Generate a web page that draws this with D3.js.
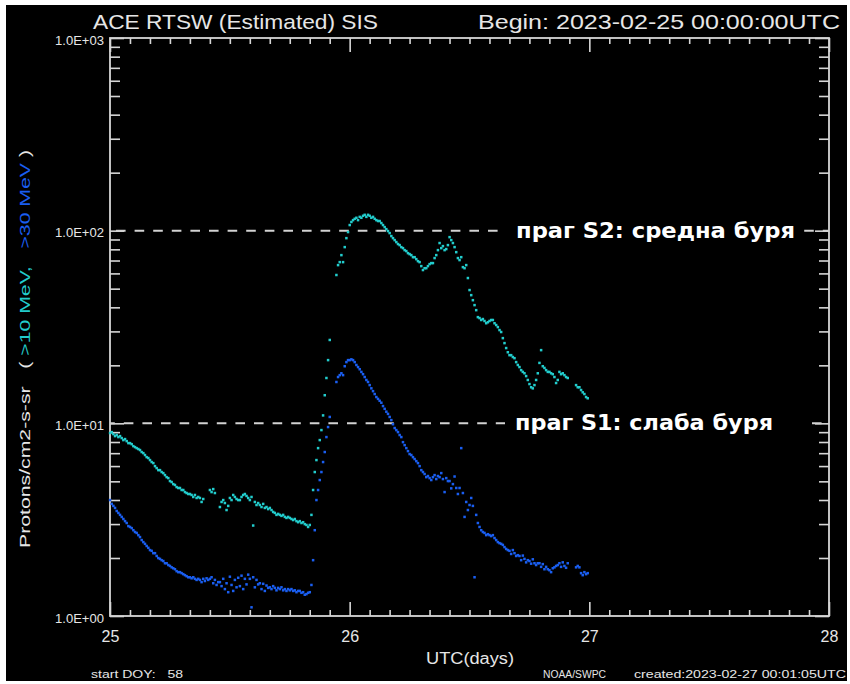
<!DOCTYPE html>
<html lang="bg">
  <head>
    <meta charset="UTF-8" />
    <title>ACE RTSW (Estimated) SIS</title>
    <script src="https://d3js.org/d3.v7.min.js"></script>
    <style>
      body {
        margin: 0;
        background: #ffffff;
      }
      .axis path {
        display: none;
      }
      .axis line {
        stroke: #d6d6d6;
        stroke-width: 1.6px;
      }
      .axis text {
        fill: #e6e6e6;
        font-family: "Liberation Sans", Arial, sans-serif;
      }
    </style>
  </head>
  <body>
    <script>
      // time axis: first sample and sampling step (10 min), in days of Feb 2023
      var startDay = 25;
      var stepDays = 1 / 144;

      // protons >10 MeV (cyan), pfu, one row = one hour (6 samples)
      var p10 = [
        8.91, 9.01, 8.8, 8.59, 8.7, 8.49,
        8.59, 8.39, 8.19, 8.29, 8.09, 7.9,
        7.9, 7.8, 7.62, 7.53, 7.44, 7.36,
        7.27, 7.1, 7.01, 6.85, 6.68, 6.61,
        6.45, 6.3, 6.22, 6.0, 5.86, 5.72,
        5.72, 5.59, 5.52, 5.39, 5.26, 5.2,
        5.02, 4.96, 4.84, 4.79, 4.67, 4.62,
        4.62, 4.51, 4.51, 4.4, 4.35, 4.3,
        4.3, 4.25, 4.15, 4.25, 4.1, 4.15,
        4.1, 3.91, 4.05, null, null, null,
        4.51, 4.4, 4.56, 4.35, null, null,
        3.68, 3.91, 4.0, 3.86, 3.55, 3.73,
        4.1, 4.0, 4.25, 4.15, 4.05, 4.0,
        4.0, 4.15, 4.25, 4.3, 4.2, 4.1,
        4.0, 4.15, 2.95, 3.91, 3.77, 3.86,
        3.77, 3.68, 3.82, 3.64, 3.68, 3.59,
        3.64, 3.55, 3.47, 3.43, 3.35, 3.39,
        3.35, 3.31, 3.35, 3.27, 3.23, 3.27,
        3.23, 3.19, 3.15, 3.19, 3.11, 3.07,
        3.11, 3.04, 3.07, 3.0, 2.97, 2.9,
        2.97, 3.35, 4.51, 5.59, 6.45, 7.44,
        8.19, 9.23, 11.0, 14.0, 17.2, 21.3,
        27.1, null, null, null, 58.9, 66.3,
        68.7, 74.7, 68.7, 82.2, 91.5, 98.4,
        107, 111, 113.5, 115.3, 116.7, 113.5,
        118, 116.7, 119.5, 120.9, 118, 120.9,
        119.5, 116.7, 118, 115.3, 113.5, 112.3,
        112.3, 109.6, 107, 104.4, 101.9, 99.6,
        97.2, 93.8, 91.5, 89.4, 87.3, 85.3,
        84.2, 82.2, 81.2, 79.3, 78.4, 76.5,
        75.6, 74.7, 72.9, 72.9, 71.2, 69.5,
        68.7, 65.5, 62.5, 63.9, 63.9, 65.5,
        67.1, 67.9, 67.9, 72.1, 74.7, 79.3,
        86.3, 81.2, 83.2, 79.3, 80.3, 84.2,
        92.6, 89.4, 86.3, 82.2, 77.4, 72.1,
        70.4, 72.9, 64.7, 63.9, 66.3, 56.8,
        49.2, 46.3, 43.6, 41.1, 38.7, 35.6,
        35.2, 34.4, 34.8, 34.0, 33.1, 33.5,
        34.0, 34.4, 34.4, 33.1, 32.4, 31.6,
        30.5, 29.8, 27.7, 26.1, 24.6, 23.4,
        22.6, 22.6, 22.1, 21.8, 20.8, 20.1,
        19.6, 18.9, 18.5, 18.2, 17.6, 16.8,
        16.0, 15.4, 15.2, 15.8, 16.8, 18.2,
        20.6, 24.0, 19.8, 19.4, 18.9, 18.5,
        18.5, 18.2, 18.0, 17.4, 16.2, 16.8,
        18.5, 18.0, 18.2, 17.8, 17.4, 17.2,
        null, null, null, null, 15.8, 15.4,
        15.4, 14.9, 14.5, 14.2, 13.7, 13.5
      ];

      // protons >30 MeV (blue), pfu
      var p30 = [
        4.0, 3.82, 3.73, 3.64, 3.51, 3.43,
        3.35, 3.27, 3.19, 3.11, 3.04, 2.93,
        2.9, 2.86, 2.79, 2.73, 2.7, 2.63,
        2.57, 2.48, 2.42, 2.37, 2.31, 2.26,
        2.2, 2.18, 2.12, 2.12, 2.05, 2.0,
        1.98, 1.95, 1.93, 1.88, 1.88, 1.84,
        1.82, 1.79, 1.77, 1.75, 1.71, 1.69,
        1.69, 1.67, 1.65, 1.63, 1.61, 1.59,
        1.59, 1.57, 1.59, 1.56, 1.54, 1.56,
        1.54, 1.5, 1.56, 1.52, 1.57, 1.54,
        1.56, 1.59, 1.48, 1.54, 1.45, 1.5,
        1.5, 1.43, 1.56, 1.38, 1.48, 1.33,
        1.6, 1.45, 1.35, 1.54, 1.41, 1.58,
        1.43, 1.62, 1.38, 1.56, 1.46, 1.64,
        1.56, 1.11, 1.59, 1.41, 1.54, 1.46,
        1.48, 1.38, 1.47, 1.35, 1.44, 1.4,
        1.41, 1.38, 1.43, 1.4, 1.36, 1.4,
        1.38, 1.41, 1.36, 1.38, 1.35, 1.38,
        1.36, 1.38, 1.35, 1.36, 1.33, 1.35,
        1.35, 1.32, 1.33, 1.29, 1.3, 1.32,
        1.33, 1.45, 1.95, 2.79, 4.0, 4.51,
        5.08, 5.59, 6.3, 7.1, 8.49, 9.57,
        10.8, null, null, null, 16.4, 17.4,
        17.8, 18.2, 17.8, 19.8, 20.8, 21.3,
        21.3, 21.5, 21.3, 20.8, 20.1, 19.6,
        19.1, 18.5, 18.0, 17.4, 16.8, 16.4,
        15.8, 15.2, 14.7, 14.2, 13.7, 13.4,
        13.1, 12.8, 12.3, 11.9, 11.5, 11.2,
        10.8, 10.4, 9.9, 9.46, 9.23, 9.01,
        8.7, 8.49, 7.99, 7.71, 7.44, 7.18,
        6.93, 6.85, 6.68, 6.53, 6.37, 6.22,
        6.0, 5.72, 5.59, 5.46, 5.26, 5.33,
        5.2, 5.08, 5.26, 5.39, 5.14, 5.33,
        5.26, 5.52, 5.14, 4.4, 5.2, 5.02,
        5.02, 4.6, 4.84, 5.3, 4.62, 4.3,
        4.62, 7.44, 4.35, 3.27, 3.91, 3.55,
        3.77, 4.1, 3.73, 1.59, 3.35, 3.04,
        2.9, 2.79, 2.73, 2.7, 2.63, 2.66,
        2.63, 2.6, 2.63, 2.54, 2.48, 2.42,
        2.39, 2.37, 2.34, 2.28, 2.23, 2.2,
        2.18, 2.1, 2.2, 2.12, 2.05, 2.07,
        2.05, 1.95, 2.06, 1.98, 1.9, 1.95,
        1.93, 1.87, 1.97, 1.88, 1.84, 1.88,
        1.88, 1.8, 1.86, 1.75, 1.8, 1.75,
        1.73, 1.69, 1.77, 1.79, 1.82, 1.84,
        1.88, 1.8, 1.9, 1.82, 1.78, 1.88,
        null, null, null, null, 1.79, 1.82,
        1.79, 1.67, 1.63, 1.69, 1.65, 1.67
      ];

      // axis ticks
      var dayTicks = [25, 26, 27, 28];
      var decadeTicks = [1, 10, 100, 1000];

      // storm thresholds
      var thresholds = [100, 10];
      var thresholdLabels = ["праг S2: средна буря", "праг S1: слаба буря"];

      var W = 850,
        H = 684;
      var plot = { left: 110, right: 829, top: 38, bottom: 616 };

      var svg = d3
        .select("body")
        .append("svg")
        .attr("width", W)
        .attr("height", H)
        .style("display", "block");

      svg
        .append("rect")
        .attr("x", 6)
        .attr("y", 5)
        .attr("width", 841)
        .attr("height", 676)
        .attr("fill", "#000");

      var x = d3
        .scaleLinear()
        .domain([25, 28])
        .range([plot.left, plot.right]);
      var y = d3
        .scaleLog()
        .domain([1, 1000])
        .range([plot.bottom, plot.top]);

      // minor ticks: every 2 hours on x, 2..9 on y
      var hourTicks = d3.range(25, 28.001, 1 / 12).filter(function (d) {
        return Math.abs(d - Math.round(d)) > 1e-6;
      });
      var minorY = [];
      decadeTicks.slice(0, 3).forEach(function (d) {
        for (var k = 2; k < 10; k++) minorY.push(d * k);
      });

      function sciLabel(d) {
        var e = Math.round(Math.log10(d));
        return "1.0E+" + (e < 10 ? "0" : "") + e;
      }

      // bottom axis
      svg
        .append("g")
        .attr("class", "axis")
        .attr("transform", "translate(0," + plot.bottom + ")")
        .call(d3.axisBottom(x).tickValues(hourTicks).tickSize(-6).tickFormat(""));
      svg
        .append("g")
        .attr("class", "axis")
        .attr("transform", "translate(0," + plot.bottom + ")")
        .call(
          d3
            .axisBottom(x)
            .tickValues(dayTicks)
            .tickSize(-14)
            .tickPadding(15)
            .tickFormat(d3.format("d"))
        )
        .selectAll("text")
        .style("font-size", "16px");

      // top axis
      svg
        .append("g")
        .attr("class", "axis")
        .attr("transform", "translate(0," + plot.top + ")")
        .call(d3.axisTop(x).tickValues(hourTicks).tickSize(-6).tickFormat(""));
      svg
        .append("g")
        .attr("class", "axis")
        .attr("transform", "translate(0," + plot.top + ")")
        .call(d3.axisTop(x).tickValues(dayTicks).tickSize(-14).tickFormat(""));

      // left axis
      svg
        .append("g")
        .attr("class", "axis")
        .attr("transform", "translate(" + plot.left + ",0)")
        .call(d3.axisLeft(y).tickValues(minorY).tickSize(-10).tickFormat(""));
      svg
        .append("g")
        .attr("class", "axis")
        .attr("transform", "translate(" + plot.left + ",0)")
        .call(
          d3
            .axisLeft(y)
            .tickValues(decadeTicks)
            .tickSize(-14)
            .tickPadding(6)
            .tickFormat(sciLabel)
        )
        .selectAll("text")
        .style("font-size", "12.5px")
        .attr("x", -6)
        .attr("y", 2)
        .attr("textLength", 49)
        .attr("lengthAdjust", "spacingAndGlyphs");

      // right axis
      svg
        .append("g")
        .attr("class", "axis")
        .attr("transform", "translate(" + plot.right + ",0)")
        .call(d3.axisRight(y).tickValues(minorY).tickSize(-10).tickFormat(""));
      svg
        .append("g")
        .attr("class", "axis")
        .attr("transform", "translate(" + plot.right + ",0)")
        .call(d3.axisRight(y).tickValues(decadeTicks).tickSize(-14).tickFormat(""));

      // frame
      svg
        .append("rect")
        .attr("x", plot.left)
        .attr("y", plot.top)
        .attr("width", plot.right - plot.left)
        .attr("height", plot.bottom - plot.top)
        .attr("fill", "none")
        .attr("stroke", "#d6d6d6")
        .attr("stroke-width", 1.8);

      // threshold lines and their labels
      var labelStyle = [
        { x: 516, len: 279, padL: 14, padR: 2, phase: 12.6 },
        { x: 515, len: 258, padL: 10, padR: 32, phase: 4.8 },
      ];
      thresholds.forEach(function (t, i) {
        var ls = labelStyle[i];
        svg
          .append("line")
          .attr("x1", plot.left)
          .attr("x2", plot.right)
          .attr("y1", y(t))
          .attr("y2", y(t))
          .attr("stroke", "#d2d2d2")
          .attr("stroke-width", 2)
          .attr("stroke-dasharray", "9.6,9")
          .attr("stroke-dashoffset", ls.phase);
        svg
          .append("rect")
          .attr("x", ls.x - ls.padL)
          .attr("y", y(t) - 18)
          .attr("width", ls.len + ls.padL + ls.padR)
          .attr("height", 26)
          .attr("fill", "#000");
        svg
          .append("text")
          .attr("x", ls.x)
          .attr("y", y(t) + 7)
          .attr("textLength", ls.len)
          .attr("lengthAdjust", "spacingAndGlyphs")
          .attr("fill", "#ffffff")
          .style("font-family", "'DejaVu Sans', Verdana, sans-serif")
          .style("font-weight", "bold")
          .style("font-size", "21px")
          .text(thresholdLabels[i]);
      });

      // data points
      function drawSeries(values, color) {
        var pts = values
          .map(function (v, i) {
            return { t: startDay + i * stepDays, v: v };
          })
          .filter(function (d) {
            return d.v !== null;
          });
        svg
          .append("g")
          .selectAll("rect")
          .data(pts)
          .enter()
          .append("rect")
          .attr("x", function (d) {
            return x(d.t) - 1.2;
          })
          .attr("y", function (d) {
            return y(d.v) - 1.2;
          })
          .attr("width", 2.5)
          .attr("height", 2.5)
          .attr("fill", color);
      }
      drawSeries(p10, "#22cccc");
      drawSeries(p30, "#1a5ef0");

      // titles and labels
      function label(txt, xp, yp, size, len, anchor) {
        var t = svg
          .append("text")
          .attr("x", xp)
          .attr("y", yp)
          .attr("fill", "#e6e6e6")
          .attr("text-anchor", anchor || "start")
          .style("font-family", "'Liberation Sans', Arial, sans-serif")
          .style("font-size", size + "px")
          .text(txt);
        if (len) t.attr("textLength", len).attr("lengthAdjust", "spacingAndGlyphs");
        return t;
      }
      label("ACE RTSW (Estimated) SIS", 93, 29, 21, 285);
      label("Begin: 2023-02-25 00:00:00UTC", 478, 29, 21, 362);
      label("UTC(days)", 470, 664, 16, 88, "middle");
      label("start DOY:   58", 91, 678, 10, 92).attr("xml:space", "preserve");
      label("NOAA/SWPC", 543, 678, 10, 63);
      label("created:2023-02-27 00:01:05UTC", 634, 678, 10, 212);

      // rotated y title with coloured energy channels
      var yt = svg
        .append("text")
        .attr("transform", "translate(30,349) rotate(-90)")
        .attr("text-anchor", "middle")
        .attr("textLength", 398)
        .attr("lengthAdjust", "spacingAndGlyphs")
        .attr("xml:space", "preserve")
        .style("font-family", "'Liberation Sans', Arial, sans-serif")
        .style("font-size", "14px");
      yt.append("tspan").attr("fill", "#e6e6e6").text("Protons/cm2-s-sr   ( ");
      yt.append("tspan").attr("fill", "#22cccc").text(">10 MeV,   ");
      yt.append("tspan").attr("fill", "#1a5ef0").text(">30 MeV");
      yt.append("tspan").attr("fill", "#e6e6e6").text(" )");
    </script>
  </body>
</html>
